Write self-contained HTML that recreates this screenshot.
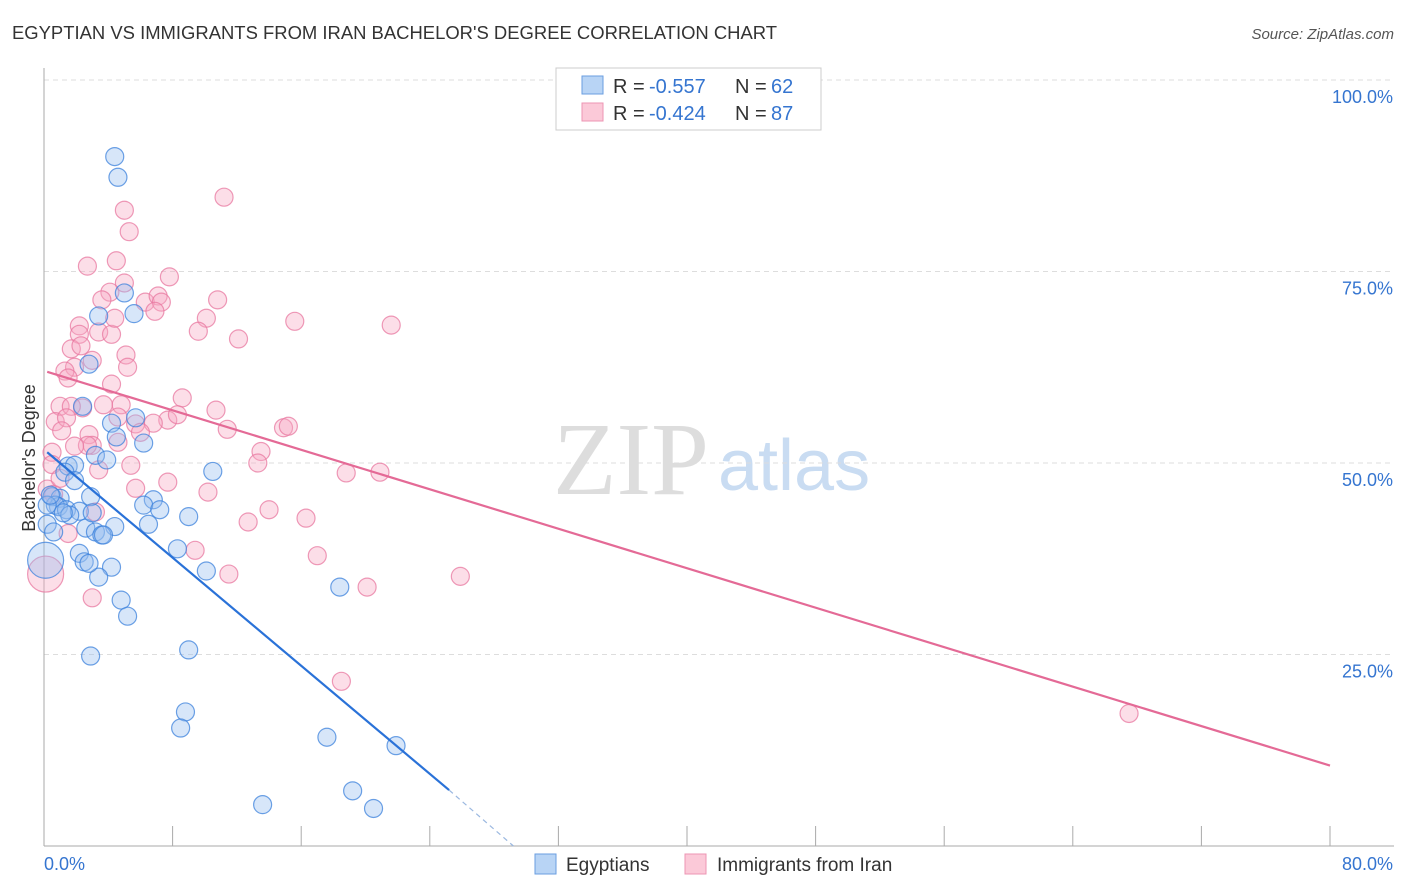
<!DOCTYPE html>
<html><head><meta charset="utf-8">
<style>
body{margin:0;background:#fff;font-family:"Liberation Sans",sans-serif;}
#wrap{position:relative;width:1406px;height:892px;overflow:hidden;}
</style></head>
<body>
<div id="wrap">
<svg id="svg" width="1406" height="892" xmlns="http://www.w3.org/2000/svg">
<text x="12" y="39" font-size="18.45" fill="#333">EGYPTIAN VS IMMIGRANTS FROM IRAN BACHELOR'S DEGREE CORRELATION CHART</text>
<text x="1394" y="39" font-size="15" fill="#555" font-style="italic" text-anchor="end">Source: ZipAtlas.com</text>
<text x="35" y="458" font-size="18" fill="#333" text-anchor="middle" transform="rotate(-90 35 458)">Bachelor's Degree</text>
<text x="553" y="494" font-size="104" fill="#ddd" font-family="Liberation Serif,serif">ZIP</text>
<text x="718" y="490" font-size="72" fill="#c9dcf2">atlas</text>
<g id="grid"></g><g id="pts"></g><g id="lines"></g>
<g>
<rect x="556" y="68" width="265" height="62" fill="#fff" stroke="#ccc"/>
<rect x="582" y="76" width="21" height="18" fill="#b8d4f5" stroke="#6a9ee0"/>
<text x="613" y="93" font-size="20" fill="#333">R =</text>
<text x="649" y="93" font-size="20" fill="#3575d0">-0.557</text>
<text x="735" y="93" font-size="20" fill="#333">N =</text>
<text x="771" y="93" font-size="20" fill="#3575d0">62</text>
<rect x="582" y="103" width="21" height="18" fill="#fbc9d8" stroke="#ec95b3"/>
<text x="613" y="120" font-size="20" fill="#333">R =</text>
<text x="649" y="120" font-size="20" fill="#3575d0">-0.424</text>
<text x="735" y="120" font-size="20" fill="#333">N =</text>
<text x="771" y="120" font-size="20" fill="#3575d0">87</text>
</g>
<g>
<rect x="535" y="854" width="21" height="20" fill="#b8d4f5" stroke="#6a9ee0"/>
<text x="566" y="871" font-size="19" fill="#333">Egyptians</text>
<rect x="685" y="854" width="21" height="20" fill="#fbc9d8" stroke="#ec95b3"/>
<text x="717" y="871" font-size="19" fill="#333">Immigrants from Iran</text>
</g>
<text x="44" y="870" font-size="18" fill="#3575d0">0.0%</text>
<text x="1393" y="870" font-size="18" fill="#3575d0" text-anchor="end">80.0%</text>
</svg>
</div>
<script>
const yTicks=[25,50,75,100];
const yTickLabels=["25.0%","50.0%","75.0%","100.0%"];
const blueX=[4.4,4.6,5.0,3.4,5.6,2.8,2.4,5.7,4.2,4.5,6.2,3.2,3.9,10.5,1.5,1.9,1.3,6.8,1.9,0.5,1.0,2.9,6.2,7.2,0.9,0.7,1.4,2.2,9.0,6.5,4.4,2.6,3.2,3.6,8.3,2.2,2.5,4.2,3.4,10.1,18.4,4.8,5.2,9.0,2.9,8.8,8.5,17.6,21.9,13.6,19.2,20.5,0.2,0.2,0.1,1.6,2.8,1.2,0.4,3.7,0.6,3.0];
const blueY=[90.0,87.3,72.2,69.2,69.5,62.9,57.4,55.9,55.2,53.4,52.6,51.0,50.4,48.9,49.6,49.7,48.8,45.2,47.7,45.6,45.4,45.6,44.5,43.9,44.3,44.5,43.9,43.7,43.0,42.0,41.7,41.5,41.0,40.6,38.8,38.2,37.1,36.4,35.1,35.9,33.8,32.1,30.0,25.6,24.8,17.5,15.4,14.2,13.1,5.4,7.2,4.9,44.5,42.0,37.3,43.2,36.9,43.5,45.8,40.6,41.0,43.5];
const blueR=blueX.map((_,i)=>i===54?18:9);
const pinkX=[11.2,5.0,5.3,2.7,4.5,7.8,5.0,4.1,3.6,6.3,7.1,7.3,6.9,10.8,10.1,15.6,2.2,2.2,3.4,4.2,4.4,9.6,12.1,21.6,1.7,2.3,3.0,5.1,1.9,1.3,5.2,1.5,4.2,8.6,2.4,10.7,1.0,1.7,3.7,4.8,0.7,1.4,4.6,5.7,7.7,8.3,6.8,1.1,2.8,11.4,14.9,15.2,4.6,3.0,13.5,0.5,5.4,13.3,18.8,20.9,3.4,5.7,7.7,10.2,0.2,0.6,3.2,14.0,12.7,16.3,1.5,9.4,17.0,11.5,20.1,25.9,3.0,18.5,67.5,0.1,2.7,1.9,0.5,1.0,6.0];
const pinkY=[84.7,83.0,80.2,75.7,76.4,74.3,73.5,72.3,71.3,71.0,71.8,71.0,69.8,71.3,68.9,68.5,67.9,66.8,67.1,66.8,68.9,67.2,66.2,68.0,64.9,65.3,63.4,64.1,62.5,62.0,62.5,61.1,60.3,58.5,57.2,56.9,57.4,57.4,57.6,57.6,55.4,55.9,56.0,55.1,55.6,56.3,55.2,54.2,53.7,54.4,54.6,54.8,52.7,52.3,51.5,51.4,49.7,50.0,48.7,48.8,49.1,46.7,47.5,46.2,46.6,45.9,43.6,43.9,42.3,42.8,40.8,38.6,37.9,35.5,33.8,35.2,32.4,21.5,17.3,35.5,52.3,52.2,49.8,48.0,54.0];
const pinkR=pinkX.map((_,i)=>i===79?18:9);
const blueTrend=[0.2,51.4,25.2,7.3];
const blueTrendEnd=[29.2,0];
const pinkTrend=[0.2,61.9,80,10.5];
const X0=44,X1=1330,Y0=846,Y100=80;
const sx=v=>X0+(v/80)*(X1-X0);
const sy=v=>Y0-(v/100)*(Y0-Y100);
const NS="http://www.w3.org/2000/svg";
function mk(tag,attrs,parent){const e=document.createElementNS(NS,tag);for(const k in attrs)e.setAttribute(k,attrs[k]);parent.appendChild(e);return e;}
const grid=document.getElementById('grid');
yTicks.forEach((t,i)=>{
 const l=mk('line',{x1:44,x2:1394,y1:sy(t),y2:sy(t),stroke:'#ddd','stroke-dasharray':'5,4'},grid);
 
 
 const tx=mk('text',{x:1393,y:sy(t)+23,'font-size':18,fill:'#3575d0','text-anchor':'end'},grid);
 tx.textContent=yTickLabels[i];
 
 
});
const ax=mk('line',{x1:44,x2:44,y1:68,y2:846,stroke:'#aaa'},grid);


const bx=mk('line',{x1:44,x2:1394,y1:846,y2:846,stroke:'#aaa'},grid);


for(let i=0;i<=10;i++){const t=mk('line',{x1:sx(i*8),x2:sx(i*8),y1:826,y2:846,stroke:'#aaa'},grid);
 
 }
const pts=document.getElementById('pts');
pinkX.forEach((v,i)=>{const c=mk('circle',{cx:sx(v),cy:sy(pinkY[i]),r:pinkR[i],fill:'rgba(246,168,195,0.38)',stroke:'rgba(232,120,160,0.75)','stroke-width':1.2},pts);
 
 });
blueX.forEach((v,i)=>{const c=mk('circle',{cx:sx(v),cy:sy(blueY[i]),r:blueR[i],fill:'rgba(150,190,240,0.38)',stroke:'rgba(60,130,220,0.75)','stroke-width':1.2},pts);
 
 });
const lines=document.getElementById('lines');
const bl=mk('line',{x1:sx(blueTrend[0]),y1:sy(blueTrend[1]),x2:sx(blueTrend[2]),y2:sy(blueTrend[3]),stroke:'#2a72d8','stroke-width':2.2},lines);


const bd=mk('line',{x1:sx(blueTrend[2]),y1:sy(blueTrend[3]),x2:sx(blueTrendEnd[0]),y2:sy(blueTrendEnd[1]),stroke:'#9bb8e0','stroke-width':1.2,'stroke-dasharray':'5,4'},lines);


const pl=mk('line',{x1:sx(pinkTrend[0]),y1:sy(pinkTrend[1]),x2:sx(pinkTrend[2]),y2:sy(pinkTrend[3]),stroke:'#e46a96','stroke-width':2.2},lines);


</script>
</body></html>
